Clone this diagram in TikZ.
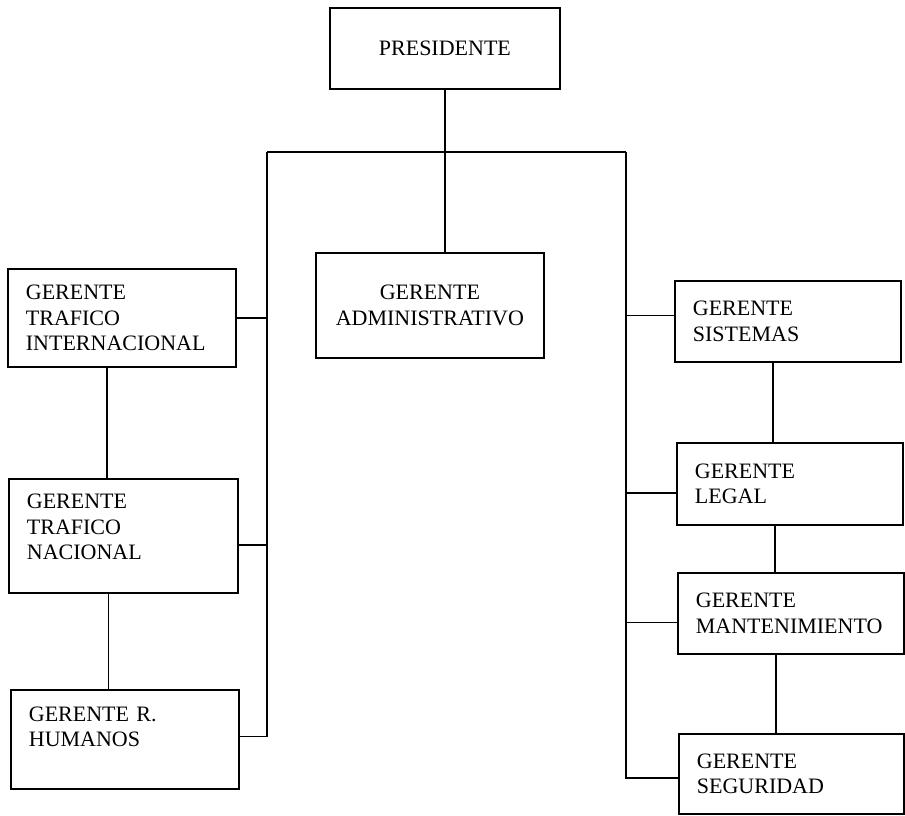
\documentclass[tikz,border=0pt]{standalone}
\usepackage{fontspec}
\setmainfont{Liberation Serif}
\usetikzlibrary{positioning}

\tikzset{
  cargo/.style={draw, line width=1.8pt, anchor=north west, inner xsep=18pt,
    inner ysep=0pt, align=left, font=\fontsize{22}{25.5}\selectfont},
  linea/.style={line width=1.8pt}
}

\begin{document}
\begin{tikzpicture}[x=1pt,y=-1pt]
  \useasboundingbox (0,0) rectangle (905,816);
  % cajas
  \node[cargo, align=center, minimum width=230pt, minimum height=81pt, text width=194pt]
     (pres) at (329,7) {PRESIDENTE};
  \node[cargo, align=center, minimum width=228pt, minimum height=105pt, text width=208pt, inner xsep=10pt]
     (adm) at (315,252) {GERENTE\\ADMINISTRATIVO};
  \node[cargo, minimum width=228pt, minimum height=98pt, text width=192pt]
     (ti) at (7,268) {GERENTE\\TRAFICO\\INTERNACIONAL};
  \node[cargo, minimum width=229pt, minimum height=114pt, text width=193pt]
     (tn) at (8,478) {GERENTE\\TRAFICO\\NACIONAL\\[-8pt]\mbox{}};
  \node[cargo, minimum width=228pt, minimum height=99pt, text width=192pt]
     (rh) at (10,689) {GERENTE R.\\HUMANOS\\\mbox{}};
  \node[cargo, minimum width=226pt, minimum height=81pt, text width=190pt]
     (sis) at (674,280) {GERENTE\\SISTEMAS};
  \node[cargo, minimum width=226pt, minimum height=82pt, text width=190pt]
     (leg) at (676,442) {GERENTE\\LEGAL};
  \node[cargo, minimum width=226pt, minimum height=81pt, text width=190pt]
     (man) at (677,572) {GERENTE\\MANTENIMIENTO};
  \node[cargo, minimum width=225pt, minimum height=80pt, text width=189pt]
     (seg) at (678,733) {GERENTE\\SEGURIDAD};

  % barras
  \coordinate (busL) at (267,152);
  \coordinate (busR) at (626,152);
  \draw[linea] (pres.south) -- (pres.south |- adm.north);
  \draw[linea] (busL) -- (busR);
  \draw[linea] (busL) |- ([yshift=3pt]rh.east);
  \draw[linea] (busR) |- ([yshift=-4pt]seg.west);
  \draw[linea] (ti.east) -- (ti.east -| busL);
  \draw[linea] ([yshift=-9pt]tn.east) -- ([yshift=-9pt]tn.east -| busL);
  \draw[linea] ([yshift=6pt]sis.west) -- ([yshift=6pt]sis.west -| busR);
  \draw[linea] ([yshift=-9pt]leg.west) -- ([yshift=-9pt]leg.west -| busR);
  \draw[linea] ([yshift=-9pt]man.west) -- ([yshift=-9pt]man.west -| busR);
  % verticales
  \draw[linea] ([xshift=-15pt]ti.south) -- ([xshift=-15pt]ti.south |- tn.north);
  \draw[linea] ([xshift=-15pt]tn.south) -- ([xshift=-15pt]tn.south |- rh.north);
  \draw[linea] ([xshift=-15pt]sis.south) -- ([xshift=-15pt]sis.south |- leg.north);
  \draw[linea] ([xshift=-15pt]leg.south) -- ([xshift=-15pt]leg.south |- man.north);
  \draw[linea] ([xshift=-15pt]man.south) -- ([xshift=-15pt]man.south |- seg.north);
\end{tikzpicture}
\end{document}
